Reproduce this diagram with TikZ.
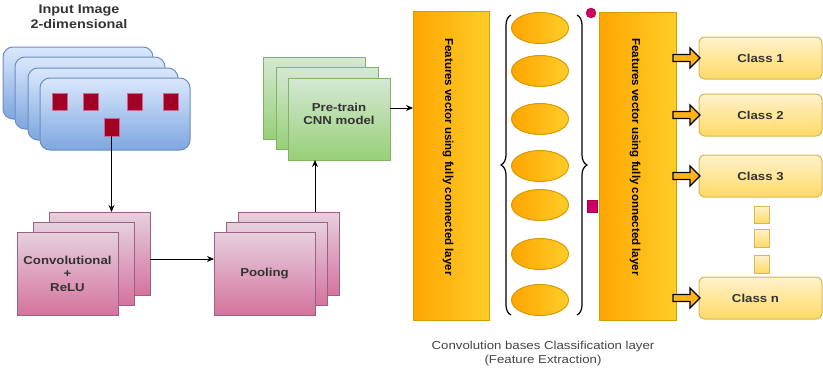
\documentclass[tikz,border=0pt]{standalone}
\usepackage{fontspec}
\usepackage{graphicx}
\setmainfont{Liberation Sans}
\usetikzlibrary{arrows.meta,decorations.pathreplacing,calc,shapes.geometric}
\definecolor{bluebd}{HTML}{6C8EBF}
\definecolor{bluetop}{HTML}{DAE8FC}
\definecolor{bluebot}{HTML}{7EA6E0}
\definecolor{pinkbd}{HTML}{996185}
\definecolor{pinktop}{HTML}{E6D0DE}
\definecolor{pinkbot}{HTML}{D5739D}
\definecolor{greenbd}{HTML}{82B366}
\definecolor{greentop}{HTML}{D5E8D4}
\definecolor{greenbot}{HTML}{97D077}
\definecolor{orbd}{HTML}{D79B00}
\definecolor{orleft}{HTML}{FFA500}
\definecolor{orright}{HTML}{FFCD28}
\definecolor{clbd}{HTML}{D6B656}
\definecolor{cltop}{HTML}{FFF2CC}
\definecolor{clbot}{HTML}{FFD966}
\definecolor{redsq}{HTML}{A20025}
\definecolor{redbd}{HTML}{C76A8E}
\definecolor{mag}{HTML}{CC0066}
\definecolor{magbd}{HTML}{A50040}
\definecolor{txt}{HTML}{333333}
\definecolor{captxt}{HTML}{444444}
\definecolor{arrfill}{HTML}{FFB31A}
\newcommand{\xwide}[1]{\scalebox{1.15}[1]{#1}}
\begin{document}
\begin{tikzpicture}[x=1pt,y=-1pt,
  box/.style={anchor=north west,inner sep=0pt,outer sep=0pt,line width=1pt},
  bluebox/.style={box,draw=bluebd,top color=bluetop,bottom color=bluebot,rounded corners=10pt,minimum width=150pt,minimum height=72pt},
  pinkbox/.style={box,draw=pinkbd,top color=pinktop,bottom color=pinkbot,minimum width=101pt,minimum height=83pt},
  greenbox/.style={box,draw=greenbd,top color=greentop,bottom color=greenbot,minimum width=102pt,minimum height=82pt},
  orbox/.style={box,draw=orbd,left color=orleft,right color=orright},
  neuron/.style={ellipse,draw=orbd,line width=1pt,left color=orleft,right color=orright,minimum width=57pt,minimum height=31pt,inner sep=0pt},
  classbox/.style={box,draw=clbd,top color=cltop,bottom color=clbot,rounded corners=6pt,minimum width=123pt,minimum height=42pt},
  dotbox/.style={box,draw=clbd,top color=cltop,bottom color=clbot,minimum width=15pt,minimum height=17pt},
  redbox/.style={box,draw=redbd,fill=redsq,line width=0.8pt,minimum width=15pt,minimum height=17pt},
  lbl/.style={font=\bfseries\fontsize{11.5}{13.5}\selectfont,text=txt,align=center},
  vlbl/.style={font=\bfseries\fontsize{11.5}{13.5}\selectfont,text=black,rotate=-90},
  arr/.style={line width=0.8pt,-{Stealth[length=7pt,width=6pt]}},
  barrow/.style={draw=black,fill=arrfill,line width=1.4pt,line join=miter},
  bracestyle/.style={decorate,decoration={brace,amplitude=10pt},line width=1.2pt}
]
\useasboundingbox (0,0) rectangle (823,370);

% input image stack
\node[lbl,font=\bfseries\fontsize{12.5}{15}\selectfont] (title) at (79,17) {\xwide{Input Image}\\\xwide{2-dimensional}};
\node[bluebox] (in1) at (3,47) {};
\node[bluebox] (in2) at (15,57) {};
\node[bluebox] (in3) at (28,68) {};
\node[bluebox] (in4) at (40,78) {};
\node[redbox] (sq1) at (52,93) {};
\node[redbox] (sq2) at (83,93) {};
\node[redbox] (sq3) at (127,93) {};
\node[redbox] (sq4) at (163,93) {};
\node[redbox,minimum height=18pt] (sq5) at (104,118) {};

% convolution stack
\node[pinkbox] (cv1) at (49,212) {};
\node[pinkbox] (cv2) at (33,222) {};
\node[pinkbox] (cv3) at (17,232) {};
\node[lbl] (cvt) at (cv3.center) {\xwide{Convolutional}\\\xwide{+}\\\xwide{ReLU}};

% pooling stack
\node[pinkbox] (pl1) at (238,212) {};
\node[pinkbox] (pl2) at (226,222) {};
\node[pinkbox] (pl3) at (214,232) {};
\node[lbl] (plt) at (pl3.center) {\xwide{Pooling}};

% pre-train stack
\node[greenbox] (gr1) at (263,57) {};
\node[greenbox] (gr2) at (276,67) {};
\node[greenbox] (gr3) at (288,78) {};
\node[lbl] (grt) at (339,114) {\xwide{Pre-train}\\\xwide{CNN model}};

% connectors
\draw[arr] (sq5.south) -- (sq5.south |- cv1.north);
\draw[arr] (cv1.east |- 0,259) -- (pl3.west |- 0,259);
\draw[arr] (pl3.east |- pl1.north) -- (pl3.east |- gr3.south);

% fully connected layers
\node[orbox,minimum width=76pt,minimum height=309pt] (fc1) at (413,11) {};
\node[vlbl] (fc1t) at (448,157) {Features vector using fully connected layer};
\draw[arr] (gr3.east |- 0,108) -- (fc1.west |- 0,108);

\node[neuron] (n1) at (540,28) {};
\node[neuron] (n2) at (540,71) {};
\node[neuron] (n3) at (540,119) {};
\node[neuron] (n4) at (540,166) {};
\node[neuron] (n5) at (540,205) {};
\node[neuron] (n6) at (540,254) {};
\node[neuron] (n7) at (540,300) {};

\coordinate (lbA) at (511,315);
\coordinate (lbB) at (511,15);
\coordinate (rbA) at (577,15);
\coordinate (rbB) at (577,315);
\draw[bracestyle] (lbA) -- (lbB);
\draw[bracestyle] (rbA) -- (rbB);

\node[circle,draw=magbd,fill=mag,minimum size=10pt,inner sep=0pt] (mc) at (591,13) {};
\node[box,draw=magbd,fill=mag,minimum width=10pt,minimum height=12pt,line width=0.6pt] (ms) at (587,200) {};

\node[orbox,minimum width=77pt,minimum height=308pt] (fc2) at (599,12) {};
\node[vlbl] (fc2t) at (635,157) {Features vector using fully connected layer};

% classes
\node[classbox] (c1) at (699,37) {};
\node[lbl] at (c1.center) {\xwide{Class 1}};
\node[classbox] (c2) at (699,94) {};
\node[lbl] at (c2.center) {\xwide{Class 2}};
\node[classbox] (c3) at (699,155) {};
\node[lbl] at (c3.center) {\xwide{Class 3}};
\node[classbox] (cn) at (699,277) {};
\node[lbl] at ($(cn.center)+(-5,0)$) {\xwide{Class n}};
\node[dotbox] (d1) at (754,206) {};
\node[dotbox,minimum height=18pt] (d2) at (754,229) {};
\node[dotbox,minimum height=18pt] (d3) at (754,255) {};

\foreach \c in {c1,c2,c3,cn}{
  \draw[barrow] ($(fc2.east |- \c.west)+(-3,-3.5)$) -- ++(17,0) -- ++(0,-6.5) -- ++(10,10) -- ++(-10,10) -- ++(0,-6.5) -- ++(-17,0) -- cycle;
}

% caption
\node[font=\fontsize{11.5}{14}\selectfont,text=captxt,align=center] (cap) at (543,354) {\xwide{Convolution bases Classification layer}\\\xwide{(Feature Extraction)}};
\end{tikzpicture}
\end{document}
